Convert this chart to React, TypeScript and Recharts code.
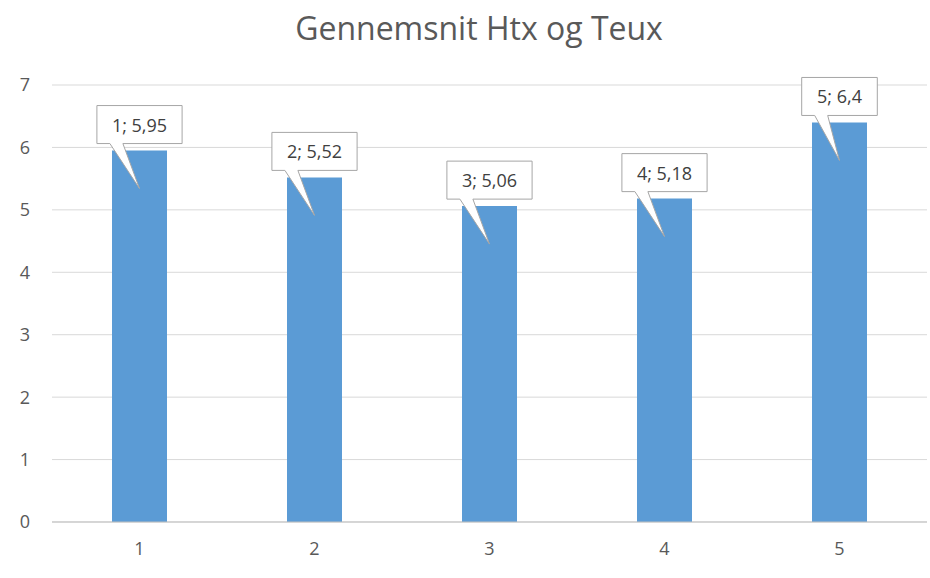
import React from 'react';
import { Bar, BarChart, CartesianGrid, LabelList, XAxis, YAxis } from 'recharts';

const categories = ['1', '2', '3', '4', '5'];
const averages = [5.95, 5.52, 5.06, 5.18, 6.4];
const yTicks = [0, 1, 2, 3, 4, 5, 6, 7];

const chartData = categories.map((name, i) => ({ name, value: averages[i] }));

const FONT = '"Open Sans", sans-serif';

function CalloutLabel(props: any) {
  const { x, y, width, value, index } = props;
  const text = `${categories[index]}; ${String(value).replace('.', ',')}`;
  const cx = x + width / 2;
  const boxW = text.length * 9.6 + 18;
  const boxH = 38;
  const bottom = y - 7;
  const top = bottom - boxH;
  const left = cx - boxW / 2;
  const right = cx + boxW / 2;
  const t1 = left + 13;
  const t2 = left + 26;
  const tipY = y + 38;
  const d = `M${left},${top} L${right},${top} L${right},${bottom} L${t2},${bottom} L${cx},${tipY} L${t1},${bottom} L${left},${bottom} Z`;
  return (
    <g>
      <path d={d} fill="#ffffff" stroke="#a6a6a6" strokeWidth={1} />
      <text x={cx} y={top + boxH / 2} textAnchor="middle" dominantBaseline="central" fontSize={18} fontFamily={FONT} fill="#404040">
        {text}
      </text>
    </g>
  );
}

export default function App() {
  return (
    <div style={{ position: 'absolute', left: 0, top: 0, width: 930, height: 578, background: '#fff' }}>
      <BarChart width={930} height={578} data={chartData} margin={{ top: 85, right: 3, left: 0, bottom: 0 }}>
        <text x={479} y={40} textAnchor="middle" fontSize={32} fontFamily={FONT} fill="#595959">
          Gennemsnit Htx og Teux
        </text>
        <CartesianGrid vertical={false} stroke="#d9d9d9" />
        <XAxis
          dataKey="name"
          height={56}
          tickSize={0}
          tickMargin={20}
          axisLine={{ stroke: '#bfbfbf' }}
          tick={{ fill: '#595959', fontSize: 18, fontFamily: FONT }}
        />
        <YAxis
          domain={[0, 7]}
          ticks={yTicks}
          width={52}
          tickSize={0}
          tickMargin={22}
          axisLine={false}
          tick={{ fill: '#595959', fontSize: 18, fontFamily: FONT }}
        />
        <Bar dataKey="value" fill="#5b9bd5" barSize={55} isAnimationActive={false}>
          <LabelList dataKey="value" content={<CalloutLabel />} />
        </Bar>
      </BarChart>
    </div>
  );
}
